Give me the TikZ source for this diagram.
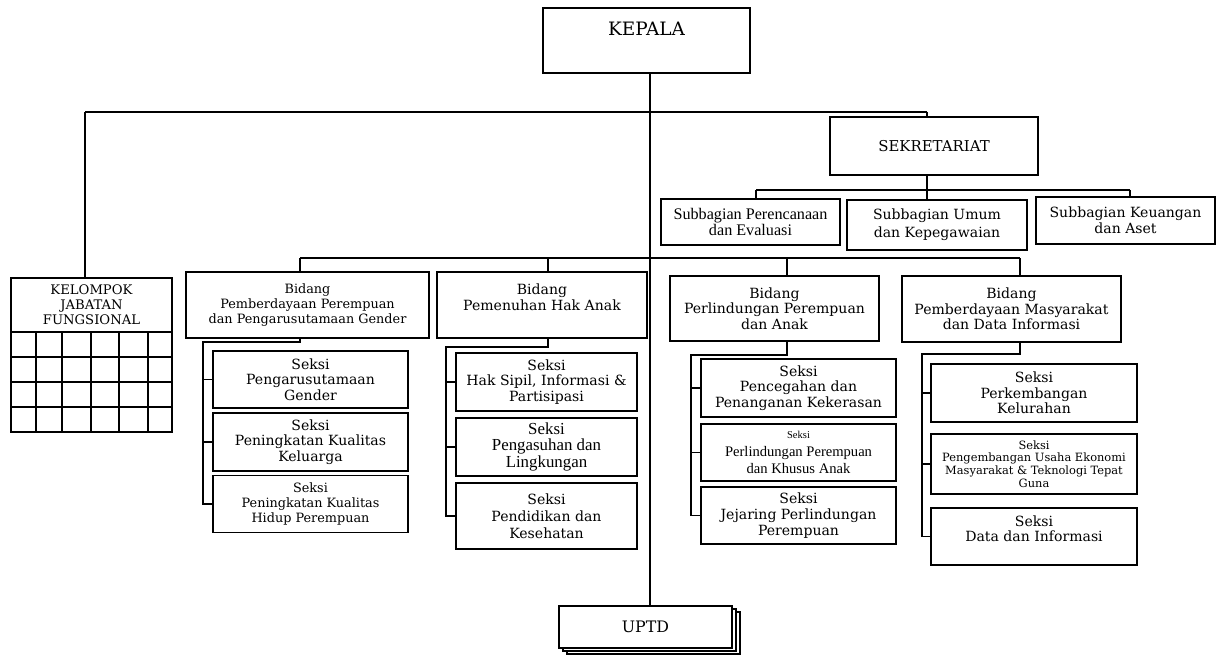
\documentclass[tikz,border=0pt]{standalone}
\usepackage{fontspec}
\setmainfont{DejaVu Serif}
\newfontfamily\tmfont{Liberation Serif}
\usetikzlibrary{shadows}

\begin{document}
\begin{tikzpicture}[x=0.02cm, y=-0.02cm]
        \tikzstyle{every node} = [rectangle, align=center, inner sep=1pt, font=\fontsize{8}{8.8}\selectfont]
        \tikzstyle{unit} = [draw, line width=1.1pt, fill=white]
        \tikzstyle{link} = [line width=0.9pt]
        \useasboundingbox (0,0) rectangle (1216,655);
        % pimpinan dan sekretariat
        \node[unit, minimum width=4.14cm, minimum height=1.3cm, font=\fontsize{10.5}{13}\selectfont] (kepala) at (646.5,40.5) {KEPALA\\~};
        \node[unit, minimum width=4.16cm, minimum height=1.16cm, font=\fontsize{8.5}{10}\selectfont] (sekr) at (934,146) {SEKRETARIAT};
        \node[unit, minimum width=3.58cm, minimum height=0.92cm, font=\tmfont\fontsize{9.2}{9.5}\selectfont] (subP) at (750.5,222) {Subbagian Perencanaan\\dan Evaluasi};
        \node[unit, minimum width=3.6cm, minimum height=1cm, font=\fontsize{8}{10}\selectfont] (subU) at (937,225) {Subbagian Umum\\dan Kepegawaian};
        \node[unit, minimum width=3.58cm, minimum height=0.94cm, font=\fontsize{8}{9.4}\selectfont] (subK) at (1125.5,220.5) {Subbagian Keuangan\\dan Aset};
        % kelompok jabatan fungsional
        \node[unit, minimum width=3.22cm, minimum height=1.08cm, font=\fontsize{7.5}{8.6}\selectfont] (kjf) at (91.5,305) {KELOMPOK\\JABATAN\\FUNGSIONAL};
        \draw[line width=1.1pt] (11,332) rectangle (172,432);
        \foreach \x in {36,62,91,119,148}
            \draw[line width=1.1pt] (\x,332) -- (\x,432);
        \foreach \y in {357,382,407}
            \draw[line width=1.1pt] (11,\y) -- (172,\y);
        % bidang
        \node[unit, minimum width=4.86cm, minimum height=1.32cm, font=\fontsize{7.3}{8.5}\selectfont] (bidA) at (307.5,305) {Bidang\\Pemberdayaan Perempuan\\dan Pengarusutamaan Gender};
        \node[unit, minimum width=4.2cm, minimum height=1.32cm] (bidB) at (542,305) {Bidang\\Pemenuhan Hak Anak\\~};
        \node[unit, minimum width=4.18cm, minimum height=1.3cm] (bidC) at (774.5,308.5) {Bidang\\Perlindungan Perempuan\\dan Anak};
        \node[unit, minimum width=4.38cm, minimum height=1.32cm] (bidD) at (1011.5,309) {Bidang\\Pemberdayaan Masyarakat\\dan Data Informasi};
        % seksi
        \node[unit, minimum width=3.9cm, minimum height=1.14cm] (sA1) at (310.5,379.5) {Seksi\\Pengarusutamaan\\Gender};
        \node[unit, minimum width=3.9cm, minimum height=1.16cm] (sA2) at (310.5,442) {Seksi\\Peningkatan Kualitas\\Keluarga};
        \node[unit, minimum width=3.9cm, minimum height=1.14cm, font=\fontsize{7.3}{8.3}\selectfont] (sA3) at (310.5,504) {Seksi\\Peningkatan Kualitas\\Hidup Perempuan};
        \node[unit, minimum width=3.62cm, minimum height=1.16cm] (sB1) at (546.5,382) {Seksi\\Hak Sipil, Informasi \&\\Partisipasi};
        \node[unit, minimum width=3.62cm, minimum height=1.16cm, font=\tmfont\fontsize{9.6}{8.6}\selectfont] (sB2) at (546.5,447) {Seksi\\Pengasuhan dan\\Lingkungan};
        \node[unit, minimum width=3.62cm, minimum height=1.32cm, font=\fontsize{8}{9.6}\selectfont] (sB3) at (546.5,516) {Seksi\\Pendidikan dan\\Kesehatan};
        \node[unit, minimum width=3.9cm, minimum height=1.16cm] (sC1) at (798.5,388) {Seksi\\Pencegahan dan\\Penanganan Kekerasan};
        \node[unit, minimum width=3.9cm, minimum height=1.14cm, font=\tmfont\fontsize{8.3}{10}\selectfont] (sC2) at (798.5,452.5) {{\fontsize{6}{7}\selectfont Seksi}\\Perlindungan Perempuan\\dan Khusus Anak};
        \node[unit, minimum width=3.9cm, minimum height=1.14cm, font=\fontsize{8}{9.2}\selectfont] (sC3) at (798.5,515.5) {Seksi\\Jejaring Perlindungan\\Perempuan};
        \node[unit, minimum width=4.12cm, minimum height=1.16cm] (sD1) at (1034,393) {Seksi\\Perkembangan\\Kelurahan};
        \node[unit, minimum width=4.12cm, minimum height=1.2cm, font=\fontsize{6.5}{7.2}\selectfont] (sD2) at (1034,464) {Seksi\\Pengembangan Usaha Ekonomi\\Masyarakat \& Teknologi Tepat\\Guna};
        \node[unit, minimum width=4.12cm, minimum height=1.14cm] (sD3) at (1034,536.5) {Seksi\\Data dan Informasi\\~};
        % uptd
        \node[unit, double copy shadow={shadow xshift=2.3pt, shadow yshift=-1.7pt}, minimum width=3.46cm, minimum height=0.84cm, font=\fontsize{9}{10}\selectfont] (uptd) at (645.5,627) {UPTD};
        % titik sambung
        \coordinate (jK) at (85,112);
        \coordinate (jS) at (927,112);
        \coordinate (busS) at (927,190);
        \coordinate (dP) at (756,190);
        \coordinate (dK) at (1130,190);
        \coordinate (busB) at (650,258);
        \coordinate (jA) at (300,342);
        \coordinate (spA) at (203,342);
        \coordinate (jB) at (548,347);
        \coordinate (spB) at (446,347);
        \coordinate (jC) at (787,355);
        \coordinate (spC) at (691,355);
        \coordinate (jD) at (1020,354);
        \coordinate (spD) at (922,354);
        % garis
        \draw[link] (kepala.south -| busB) -- (busB |- uptd.north);
        \draw[link] (jK) -- (jS);
        \draw[link] (jK) -- (jK |- kjf.north);
        \draw[link] (jS) -- (jS |- sekr.north);
        \draw[link] (busS |- sekr.south) -- (busS);
        \draw[link] (dP) -- (dK);
        \foreach \from/\to in {dP/subP, busS/subU, dK/subK}
            \draw[link] (\from) -- (\from |- \to.north);
        \draw[link] (busB -| jA) -- (busB -| jD);
        \foreach \from/\to in {jA/bidA, jB/bidB, jC/bidC, jD/bidD}
            \draw[link] (busB -| \from) -- (\from |- \to.north);
        \foreach \bd/\jn/\sn/\to in {bidA/jA/spA/sA3, bidB/jB/spB/sB3, bidC/jC/spC/sC3, bidD/jD/spD/sD3}
            \draw[link] (\jn |- \bd.south) -- (\jn) -- (\sn) |- (\to.west);
        \foreach \sn/\to in {spA/sA1, spA/sA2, spB/sB1, spB/sB2, spC/sC1, spC/sC2, spD/sD1, spD/sD2}
            \draw[link] (\sn |- \to.west) -- (\to.west);
    \end{tikzpicture}
\end{document}
